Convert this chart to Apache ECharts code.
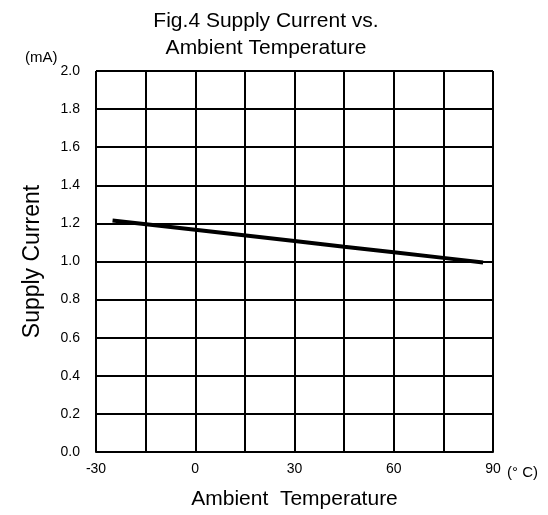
<!DOCTYPE html>
<html>
<head>
<meta charset="utf-8">
<script src="https://cdn.jsdelivr.net/npm/echarts@6/dist/echarts.min.js"></script>
<style>
html,body{margin:0;padding:0;background:#fff;}
#c{width:548px;height:515px;}
</style>
</head>
<body>
<div id="c"></div>
<script>
var titleLines = ['Fig.4 Supply Current vs.', 'Ambient Temperature'];
var xName = 'Ambient  Temperature';
var yName = 'Supply Current';
var yUnit = '(mA)';
var xUnit = '(° C)';
var xTickLabels = [-30, 0, 30, 60, 90];
var temperature = [-25, 0, 30, 45, 60, 75, 87];
var supplyCurrent = [1.215, 1.167, 1.108, 1.078, 1.049, 1.019, 0.995];

var FONT = 'Liberation Sans, Arial, sans-serif';
var chart = echarts.init(document.getElementById('c'), null, {renderer: 'canvas'});
var pts = temperature.map(function (t, i) { return [t, supplyCurrent[i]]; });

chart.setOption({
  backgroundColor: '#fff',
  animation: false,
  title: {
    text: titleLines.join('\n'),
    left: 266, top: 8, textAlign: 'center', padding: 0,
    textStyle: {fontFamily: FONT, fontSize: 21, fontWeight: 'normal', color: '#000', lineHeight: 27}
  },
  grid: {left: 96, right: 55, top: 71, bottom: 59, containLabel: false},
  xAxis: {
    type: 'value', min: -30, max: 90, interval: 15,
    name: xName, nameLocation: 'middle', nameGap: 37,
    nameTextStyle: {fontFamily: FONT, fontSize: 21, color: '#000'},
    axisLine: {show: true, lineStyle: {color: '#000', width: 2}},
    axisTick: {show: false},
    axisLabel: {
      margin: 10, fontFamily: FONT, fontSize: 14, color: '#000',
      formatter: function (v) { return xTickLabels.indexOf(v) >= 0 ? String(v) : ''; }
    },
    splitLine: {show: true, lineStyle: {color: '#000', width: 2}}
  },
  yAxis: {
    type: 'value', min: 0, max: 2, interval: 0.2,
    name: yName, nameLocation: 'middle', nameGap: 52, nameRotate: 90,
    nameTextStyle: {fontFamily: FONT, fontSize: 23, color: '#000'},
    axisLine: {show: true, lineStyle: {color: '#000', width: 2}},
    axisTick: {show: false},
    axisLabel: {
      margin: 16, fontFamily: FONT, fontSize: 14, color: '#000',
      formatter: function (v) { return v.toFixed(1); }
    },
    splitLine: {show: true, lineStyle: {color: '#000', width: 2}}
  },
  graphic: [
    {type: 'text', left: 25, top: 50, style: {text: yUnit, fontFamily: FONT, fontSize: 15, fill: '#000'}},
    {type: 'text', left: 507, top: 465, style: {text: xUnit, fontFamily: FONT, fontSize: 15, fill: '#000'}}
  ],
  series: [{
    type: 'line', data: pts, showSymbol: false, symbol: 'none',
    lineStyle: {color: '#000', width: 4}, z: 5
  }]
});
</script>
</body>
</html>
